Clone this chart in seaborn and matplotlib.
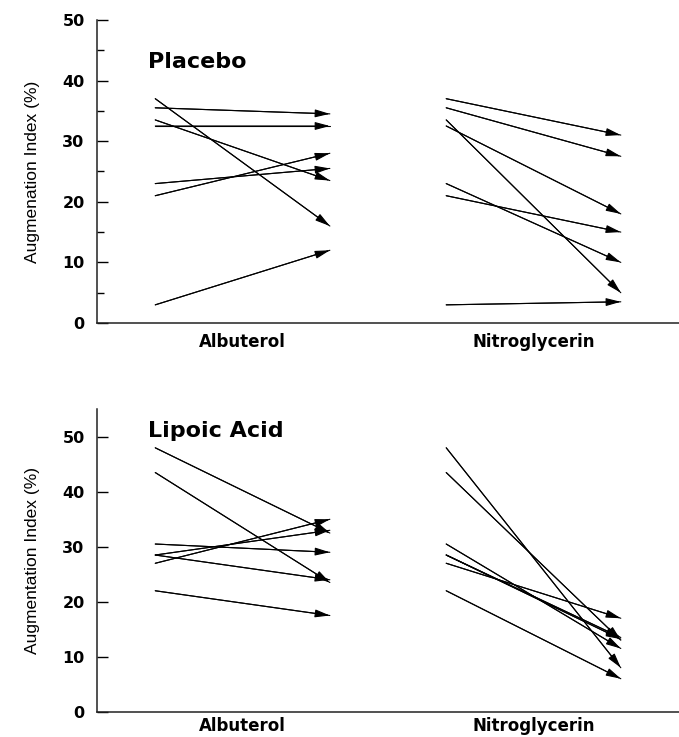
import matplotlib
matplotlib.use("Agg")
import matplotlib.pyplot as plt
from matplotlib.ticker import MultipleLocator
import pandas as pd
import seaborn as sns

# treatment groups on the x axis
groups = ["Albuterol", "Nitroglycerin"]

# Placebo panel: baseline -> post-drug augmentation index (%)
placebo_alb_pre = [37, 35.5, 33.5, 32.5, 23, 21, 3]
placebo_alb_post = [16, 34.5, 23.5, 32.5, 25.5, 28, 12]
placebo_ntg_pre = [37, 35.5, 33.5, 32.5, 23, 21, 3]
placebo_ntg_post = [31, 27.5, 5, 18, 10, 15, 3.5]

# Lipoic acid panel
lipoic_alb_pre = [48, 43.5, 30.5, 28.5, 28.5, 27, 22]
lipoic_alb_post = [32.5, 23.5, 29, 33, 24, 35, 17.5]
lipoic_ntg_pre = [48, 43.5, 30.5, 28.5, 28.5, 27, 22]
lipoic_ntg_post = [8, 13, 11.5, 13.5, 13.2, 17, 6]

sns.set_style("ticks")
plt.rcParams.update({
    "text.color": "black",
    "axes.labelcolor": "black",
    "xtick.color": "black",
    "ytick.color": "black",
    "axes.edgecolor": "#222222",
})


def build_frame(alb_pre, alb_post, ntg_pre, ntg_post):
    rows = []
    seg = 0
    for g, pre, post in [(0, alb_pre, alb_post), (1, ntg_pre, ntg_post)]:
        for a, b in zip(pre, post):
            rows.append({"seg": seg, "x": g - 0.3, "value": a})
            rows.append({"seg": seg, "x": g + 0.3, "value": b})
            seg += 1
    return pd.DataFrame(rows)


def draw_panel(ax, df, title, title_y, ylabel, ymax, minor, xpad):
    sns.lineplot(data=df, x="x", y="value", units="seg", estimator=None,
                 color="black", linewidth=0.8, ax=ax, legend=False)
    for _, d in df.groupby("seg"):
        x0, x1 = d["x"].values
        y0, y1 = d["value"].values
        ax.annotate("", xy=(x1, y1), xytext=(x0, y0),
                    arrowprops=dict(arrowstyle="-|>,head_length=0.75,head_width=0.2",
                                    mutation_scale=12, color="black", lw=0.8,
                                    shrinkA=0, shrinkB=0))
    ax.set_xlim(-0.5, 1.5)
    ax.set_ylim(0, ymax)
    ax.set_xticks([0, 1])
    ax.set_xticklabels(groups)
    ax.yaxis.set_major_locator(MultipleLocator(10))
    if minor:
        ax.yaxis.set_minor_locator(MultipleLocator(5))
    ax.tick_params(axis="y", which="major", direction="in", length=8, width=1, pad=9)
    ax.tick_params(axis="y", which="minor", direction="in", length=5, width=1)
    ax.tick_params(axis="x", length=0, pad=xpad)
    for lab in ax.get_xticklabels() + ax.get_yticklabels():
        lab.set_fontfamily("DejaVu Sans")
        lab.set_fontweight("bold")
    for lab in ax.get_xticklabels():
        lab.set_fontsize(12)
    for lab in ax.get_yticklabels():
        lab.set_fontsize(11.5)
    ax.set_xlabel("")
    ax.set_ylabel(ylabel, fontfamily="Liberation Sans", fontsize=12.5, labelpad=16)
    ax.text(-0.325, title_y, title, fontfamily="DejaVu Sans", fontweight="bold",
            fontsize=16, ha="left", va="center")
    sns.despine(ax=ax)
    for s in ["left", "bottom"]:
        ax.spines[s].set_linewidth(1.1)


fig = plt.figure(figsize=(6.79, 7.37), dpi=100)
ax1 = fig.add_axes([0.143, 0.5617, 0.857, 0.4113])
ax2 = fig.add_axes([0.143, 0.0343, 0.857, 0.4103])

draw_panel(ax1, build_frame(placebo_alb_pre, placebo_alb_post, placebo_ntg_pre, placebo_ntg_post),
           "Placebo", 43, "Augmenation Index (%)", 50, True, 7)
draw_panel(ax2, build_frame(lipoic_alb_pre, lipoic_alb_post, lipoic_ntg_pre, lipoic_ntg_post),
           "Lipoic Acid", 51, "Augmentation Index (%)", 55, False, 4)

fig.savefig("out.png", dpi=100)
